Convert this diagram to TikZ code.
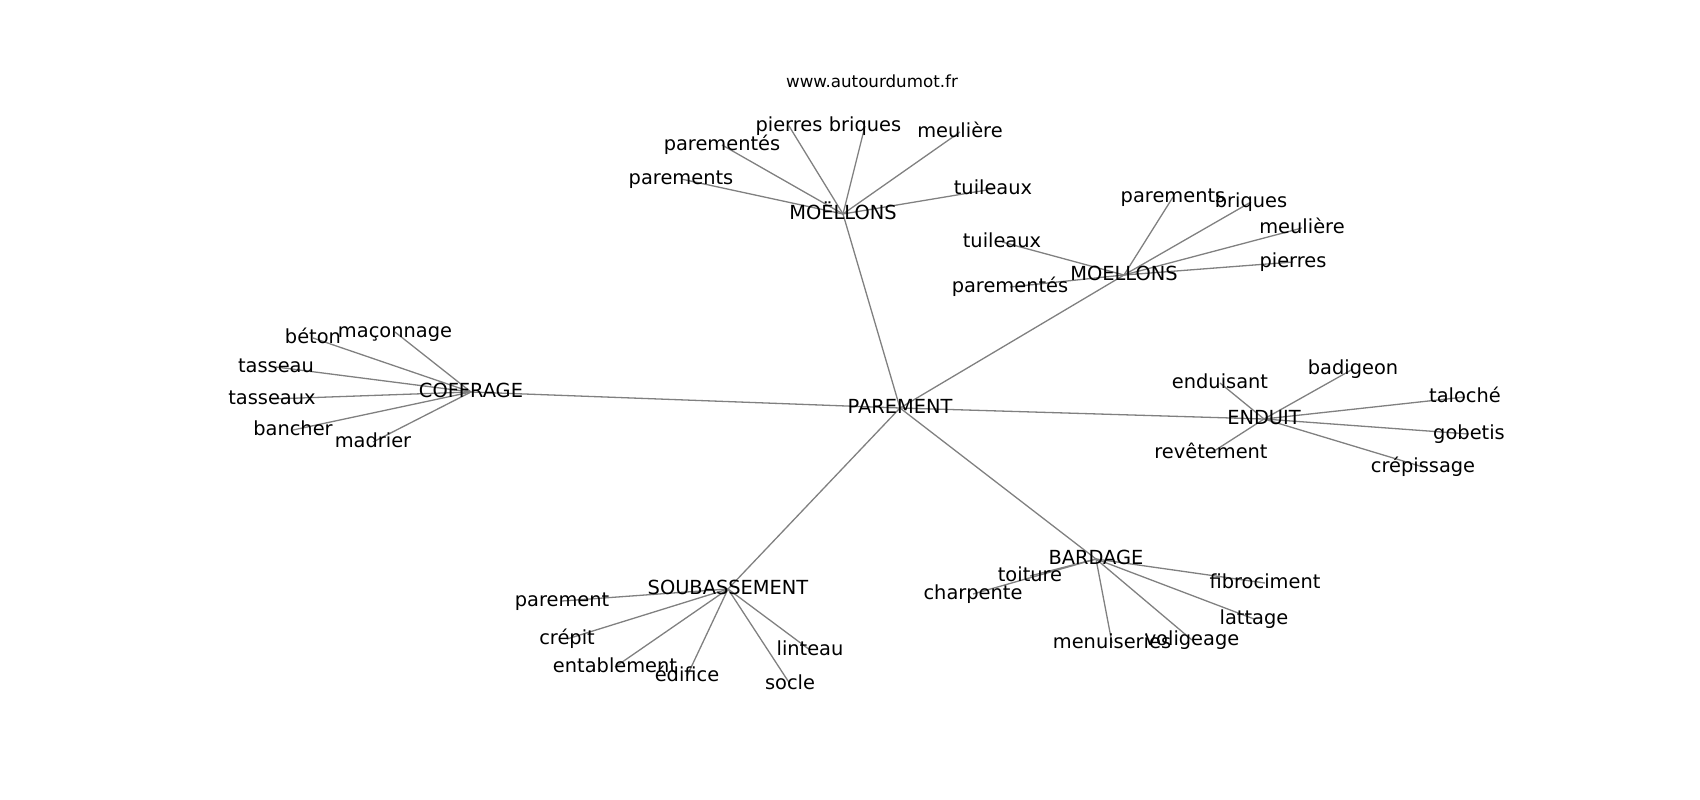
\documentclass[tikz,border=0pt]{standalone}
\usepackage{fontspec}
\setmainfont{DejaVu Sans}
\usetikzlibrary{backgrounds}
\tikzset{
  lbl/.style={font=\fontsize{19.4pt}{23pt}\selectfont, inner sep=0pt, text height=14.7pt, text depth=4.7pt, anchor=center},
  ttl/.style={font=\fontsize{16.7pt}{20pt}\selectfont, inner sep=0pt, anchor=base},
  edge/.style={draw=black!50, line width=1.3pt}
}
\begin{document}
\begin{tikzpicture}[x=1pt,y=-1pt]
\useasboundingbox (0,0) rectangle (1700,800);
\node[ttl] (title) at (872,88) {www.autourdumot.fr};
% hub
\node[lbl] (par) at (900,408) {PAREMENT};
% top MOËLLONS
\node[lbl] (moe) at (843,214) {MOËLLONS};
\node[lbl] (m1) at (681,179) {parements};
\node[lbl] (m2) at (722,145) {parementés};
\node[lbl] (m3) at (789,126) {pierres};
\node[lbl] (m4) at (865,126) {briques};
\node[lbl] (m5) at (960,132) {meulière};
\node[lbl] (m6) at (993,189) {tuileaux};
% right MOELLONS
\node[lbl] (mo) at (1124,275) {MOELLONS};
\node[lbl] (n1) at (1002,242) {tuileaux};
\node[lbl] (n2) at (1010,287) {parementés};
\node[lbl] (n3) at (1173,197) {parements};
\node[lbl] (n4) at (1251,202) {briques};
\node[lbl] (n5) at (1302,228) {meulière};
\node[lbl] (n6) at (1293,262) {pierres};
% COFFRAGE
\node[lbl] (cof) at (471,392) {COFFRAGE};
\node[lbl] (c1) at (313,338) {béton};
\node[lbl] (c2) at (395,332) {maçonnage};
\node[lbl] (c3) at (276,367) {tasseau};
\node[lbl] (c4) at (272,399) {tasseaux};
\node[lbl] (c5) at (293,430) {bancher};
\node[lbl] (c6) at (373,442) {madrier};
% ENDUIT
\node[lbl] (end) at (1264,419) {ENDUIT};
\node[lbl] (e1) at (1220,383) {enduisant};
\node[lbl] (e2) at (1353,369) {badigeon};
\node[lbl] (e3) at (1465,397) {taloché};
\node[lbl] (e4) at (1469,434) {gobetis};
\node[lbl] (e5) at (1423,467) {crépissage};
\node[lbl] (e6) at (1211,453) {revêtement};
% SOUBASSEMENT
\node[lbl] (sou) at (728,589) {SOUBASSEMENT};
\node[lbl] (s1) at (562,601) {parement};
\node[lbl] (s2) at (567,639) {crépit};
\node[lbl] (s3) at (615,667) {entablement};
\node[lbl] (s4) at (687,676) {édifice};
\node[lbl] (s5) at (810,650) {linteau};
\node[lbl] (s6) at (790,684) {socle};
% BARDAGE
\node[lbl] (bar) at (1096,559) {BARDAGE};
\node[lbl] (b1) at (1030,576) {toiture};
\node[lbl] (b2) at (973,594) {charpente};
\node[lbl] (b3) at (1265,583) {fibrociment};
\node[lbl] (b4) at (1254,619) {lattage};
\node[lbl] (b5) at (1192,640) {voligeage};
\node[lbl] (b6) at (1112,643) {menuiseries};
\begin{scope}[on background layer]
\foreach \h in {moe,mo,cof,end,sou,bar} \draw[edge] (par.center) -- (\h.center);
\foreach \t in {m1,m2,m3,m4,m5,m6} \draw[edge] (moe.center) -- (\t.center);
\foreach \t in {n1,n2,n3,n4,n5,n6} \draw[edge] (mo.center) -- (\t.center);
\foreach \t in {c1,c2,c3,c4,c5,c6} \draw[edge] (cof.center) -- (\t.center);
\foreach \t in {e1,e2,e3,e4,e5,e6} \draw[edge] (end.center) -- (\t.center);
\foreach \t in {s1,s2,s3,s4,s5,s6} \draw[edge] (sou.center) -- (\t.center);
\foreach \t in {b1,b2,b3,b4,b5,b6} \draw[edge] (bar.center) -- (\t.center);
\end{scope}
\end{tikzpicture}
\end{document}
